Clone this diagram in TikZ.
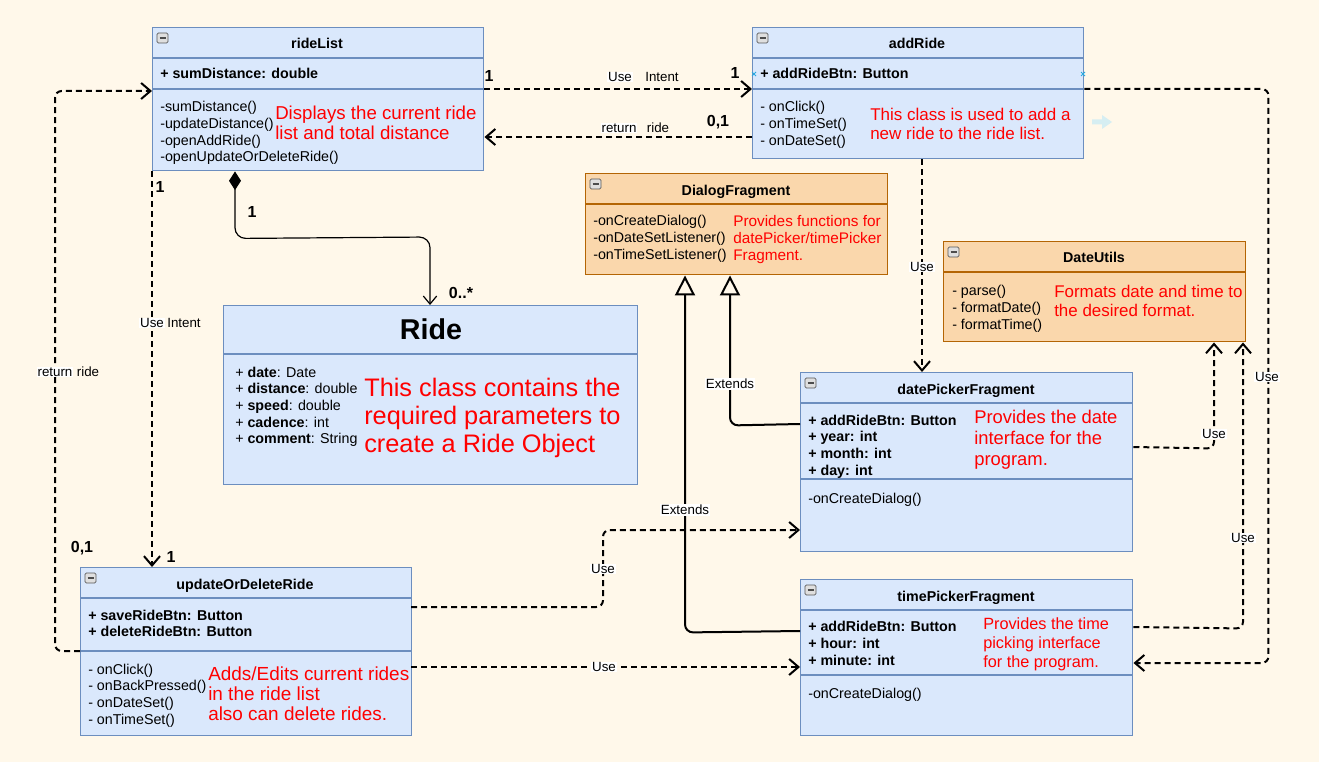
\documentclass[tikz,border=0pt]{standalone}
\usepackage{fontspec}
\setmainfont{Liberation Sans}
\usetikzlibrary{arrows.meta,calc}
\definecolor{bg}{HTML}{FFF8EA}
\definecolor{bfill}{HTML}{DAE8FC}
\definecolor{bline}{HTML}{6C8EBF}
\definecolor{ofill}{HTML}{FAD7AC}
\definecolor{oline}{HTML}{B46504}
\definecolor{redtxt}{HTML}{FF0000}
\definecolor{xblue}{HTML}{29A9E0}
\definecolor{ghost}{HTML}{D6EEF2}
\tikzset{
  bluebox/.style={draw=bline, fill=bfill, line width=1.1pt, rectangle, inner sep=0pt, anchor=north west},
  orangebox/.style={draw=oline, fill=ofill, line width=1.1pt, rectangle, inner sep=0pt, anchor=north west},
  body/.style={font=\fontsize{10.7pt}{12.5pt}\selectfont, anchor=base west, inner sep=0pt, align=left},
  bodyb/.style={font=\fontsize{10.7pt}{12.5pt}\selectfont\bfseries, anchor=base west, inner sep=0pt, align=left},
  title/.style={font=\fontsize{10.7pt}{12.5pt}\selectfont\bfseries, anchor=base, inner sep=0pt},
  note/.style={anchor=base west, inner sep=0pt, align=left, text=redtxt},
  conn/.style={line width=1.5pt, dash pattern=on 4.5pt off 3pt, rounded corners=5pt},
  openarr/.style={-{Straight Barb[length=7pt,width=12pt]}},
  ext/.style={line width=1.5pt, rounded corners=6pt, -{Triangle[open, length=15pt, width=15pt, fill=bg]}},
  lbl/.style={font=\fontsize{10pt}{12pt}\selectfont, inner sep=0.6pt},
  wlbl/.style={lbl, fill=white},
  mult/.style={font=\fontsize{12pt}{14pt}\selectfont\bfseries, inner sep=0pt},
  sepb/.style={draw=bline, line width=0.9pt},
  sepo/.style={draw=oline, line width=0.9pt},
}
\newcommand{\boxicon}[1]{%
  \draw[gray!70!black, fill=gray!25, rounded corners=1pt, line width=0.5pt] ($(#1.north west)+(5,6)$) rectangle ($(#1.north west)+(16,16)$);
  \draw[line width=1.2pt, black!70] ($(#1.north west)+(7.5,11)$) -- ($(#1.north west)+(13.5,11)$);}
\newcommand{\hsep}[3]{\draw[#3] ($(#1.north west)+(0,#2)$) -- ($(#1.north east)+(0,#2)$);}
\begin{document}
\begin{tikzpicture}[x=0.75pt,y=-0.75pt]
\fill[bg] (0,0) rectangle (1319,762);
\useasboundingbox (0,0) rectangle (1319,762);

% ---------- boxes ----------
\node[bluebox, minimum width=331*0.75pt, minimum height=143*0.75pt] (rideList) at (152,27) {};
\node[bluebox, minimum width=331*0.75pt, minimum height=131*0.75pt] (addRide) at (752,27) {};
\node[orangebox, minimum width=302*0.75pt, minimum height=101*0.75pt] (dialog) at (585,173) {};
\node[orangebox, minimum width=302*0.75pt, minimum height=100*0.75pt] (dateUtils) at (943,241) {};
\node[bluebox, minimum width=414*0.75pt, minimum height=179*0.75pt] (ride) at (223,305) {};
\node[bluebox, minimum width=332*0.75pt, minimum height=179*0.75pt] (datePicker) at (800,372) {};
\node[bluebox, minimum width=332*0.75pt, minimum height=156*0.75pt] (timePicker) at (800,579) {};
\node[bluebox, minimum width=331*0.75pt, minimum height=168*0.75pt] (upd) at (80,567) {};

\hsep{rideList}{31}{sepb} \hsep{rideList}{62}{sepb}
\hsep{addRide}{31}{sepb} \hsep{addRide}{62}{sepb}
\hsep{dialog}{31}{sepo}
\hsep{dateUtils}{31}{sepo}
\hsep{ride}{49}{sepb}
\hsep{datePicker}{31}{sepb} \hsep{datePicker}{107}{sepb}
\hsep{timePicker}{31}{sepb} \hsep{timePicker}{96}{sepb}
\hsep{upd}{31}{sepb} \hsep{upd}{84}{sepb}

\boxicon{rideList} \boxicon{addRide} \boxicon{dialog} \boxicon{dateUtils}
\boxicon{datePicker} \boxicon{timePicker} \boxicon{upd}

% ---------- box texts (multi-line nodes are anchored at their last baseline) ----------
\node[title] (rlT) at (317,49) {rideList};
\node[bodyb] (rlA) at (160,79) {+ sumDistance: double};
\node[body] (rlM) at (160,162) {-sumDistance()\\-updateDistance()\\-openAddRide()\\-openUpdateOrDeleteRide()};
\node[note, font=\fontsize{14pt}{15pt}\selectfont] (rlN) at (275,140) {Displays the current ride\\list and total distance};

\node[title] (arT) at (917,49) {addRide};
\node[bodyb] (arA) at (760,79) {+ addRideBtn: Button};
\node[body] (arM) at (760,145.3) {- onClick()\\- onTimeSet()\\- onDateSet()};
\node[note, font=\fontsize{12.75pt}{13.9pt}\selectfont] (arN) at (870,139.5) {This class is used to add a\\new ride to the ride list.};

\node[title] (dfT) at (736,196) {DialogFragment};
\node[body] (dfM) at (593,259.3) {-onCreateDialog()\\-onDateSetListener()\\-onTimeSetListener()};
\node[note, font=\fontsize{11.5pt}{12.75pt}\selectfont] (dfN) at (733,260.5) {Provides functions for\\datePicker/timePicker\\Fragment.};

\node[title] (duT) at (1094,263) {DateUtils};
\node[body] (duM) at (952,329.3) {- parse()\\- formatDate()\\- formatTime()};
\node[note, font=\fontsize{12.7pt}{13.9pt}\selectfont] (duN) at (1054,316.5) {Formats date and time to\\the desired format.};

\node[anchor=base, inner sep=0pt, font=\fontsize{21.5pt}{24pt}\selectfont\bfseries] (rdT) at (431,340) {Ride};
\node[body] (rdA) at (235,443.7) {+ \textbf{date}: Date\\+ \textbf{distance}: double\\+ \textbf{speed}: double\\+ \textbf{cadence}: int\\+ \textbf{comment}: String};
\node[note, font=\fontsize{19pt}{21pt}\selectfont] (rdN) at (364,452) {This class contains the\\required parameters to\\create a Ride Object};

\node[title] (dpT) at (966,394) {datePickerFragment};
\node[bodyb] (dpA) at (808,475) {+ addRideBtn: Button\\+ year: int\\+ month: int\\+ day: int};
\node[body] (dpM) at (808,503) {-onCreateDialog()};
\node[note, font=\fontsize{13.8pt}{15.75pt}\selectfont] (dpN) at (974,465.6) {Provides the date\\interface for the\\program.};

\node[title] (tpT) at (966,601) {timePickerFragment};
\node[bodyb] (tpA) at (808,665.3) {+ addRideBtn: Button\\+ hour: int\\+ minute: int};
\node[body] (tpM) at (808,698) {-onCreateDialog()};
\node[note, font=\fontsize{12.2pt}{13.9pt}\selectfont] (tpN) at (983,667) {Provides the time\\picking interface\\for the program.};

\node[title] (udT) at (245,589) {updateOrDeleteRide};
\node[bodyb] (udA) at (88,636.7) {+ saveRideBtn: Button\\+ deleteRideBtn: Button};
\node[body] (udM) at (88,724) {- onClick()\\- onBackPressed()\\- onDateSet()\\- onTimeSet()};
\node[note, font=\fontsize{14.2pt}{15pt}\selectfont] (udN) at (208,720) {Adds/Edits current rides\\in the ride list\\also can delete rides.};

% small artefacts
\draw[xblue, line width=0.6pt] (752,72) -- (756,76) (752,76) -- (756,72);
\draw[xblue, line width=0.6pt] (1081,72) -- (1085,76) (1081,76) -- (1085,72);
\fill[ghost] (1092,119.5) -- (1102,119.5) -- (1102,115) -- (1112,122) -- (1102,129) -- (1102,124.5) -- (1092,124.5) -- cycle;

% ---------- connectors ----------
\draw[conn, openarr] ($(rideList.north east)+(0,62)$) -- ($(addRide.north west)+(0,62)$);
\draw[conn, openarr] ($(addRide.north west)+(0,110)$) -- ($(rideList.north east)+(0,110)$);
\draw[line width=0.9pt, rounded corners=8pt, {Diamond[length=14pt,width=9pt]}-{Straight Barb[length=6pt,width=10pt]}]
  ($(rideList.south west)+(83,0)$) -- ++(0,67) -- ($(ride.north west)+(207,-68)$) -- ($(ride.north west)+(207,0)$);
\draw[conn, openarr] (rideList.south west) -- ($(upd.north west)+(72,0)$);
\draw[conn, openarr] ($(upd.north west)+(0,84)$) -- ++(-25,0) -- ($(rideList.north west)+(-97,64)$) -- ($(rideList.north west)+(0,64)$);
\draw[conn, openarr] ($(addRide.south west)+(170,0)$) -- ($(datePicker.north west)+(122,0)$);
\draw[conn, openarr] ($(addRide.north east)+(0,62)$) -- ++(184,0) -- ($(timePicker.north east)+(135,84)$) -- ($(timePicker.north east)+(0,84)$);
\draw[conn, openarr] ($(datePicker.north east)+(0,75)$) -- ($(dateUtils.south west)+(271,106)$) -- ($(dateUtils.south west)+(271,0)$);
\draw[conn, openarr] ($(timePicker.north east)+(0,48)$) -- ($(dateUtils.south west)+(300,286)$) -- ($(dateUtils.south west)+(300,0)$);
\draw[ext] ($(datePicker.north west)+(0,52)$) -- ($(dialog.south west)+(145,150)$) -- ($(dialog.south west)+(145,0)$);
\draw[ext] ($(timePicker.north west)+(0,52)$) -- ($(dialog.south west)+(100,357)$) -- ($(dialog.south west)+(100,0)$);
\draw[conn, openarr] ($(upd.north west)+(331,40)$) -- ++(192,0) -- ($(datePicker.north west)+(-197,158)$) -- ($(datePicker.north west)+(0,158)$);
\draw[conn, openarr] ($(upd.north west)+(331,100)$) -- ($(timePicker.north west)+(0,88)$);

% ---------- connector labels ----------
\node[wlbl] (l1) at (620,77) {Use};
\node[lbl] (l2) at (662,77) {Intent};
\node[wlbl] (l3) at (619,128) {return};
\node[lbl] (l4) at (658,128) {ride};
\node[wlbl] (l5) at (152,323) {Use};
\node[lbl] (l6) at (184,323) {Intent};
\node[wlbl] (l7) at (55,372) {return};
\node[lbl] (l8) at (88,372) {ride};
\node[wlbl] (l9) at (922,267) {Use};
\node[wlbl] (l10) at (1267,377) {Use};
\node[wlbl] (l11) at (1214,434) {Use};
\node[wlbl] (l12) at (1243,538) {Use};
\node[wlbl] (l13) at (603,569) {Use};
\node[wlbl] (l14) at (604,667) {Use};
\node[wlbl] (l15) at (730,384) {Extends};
\node[wlbl] (l16) at (685,510) {Extends};

\node[mult] (m1) at (489,76) {1};
\node[mult] (m2) at (735,73) {1};
\node[mult] (m3) at (718,122) {0,1};
\node[mult] (m4) at (252,212) {1};
\node[mult] (m5) at (461,293) {0..*};
\node[mult] (m6) at (160,187) {1};
\node[mult] (m7) at (82,548) {0,1};
\node[mult] (m8) at (171,557) {1};
\end{tikzpicture}
\end{document}
